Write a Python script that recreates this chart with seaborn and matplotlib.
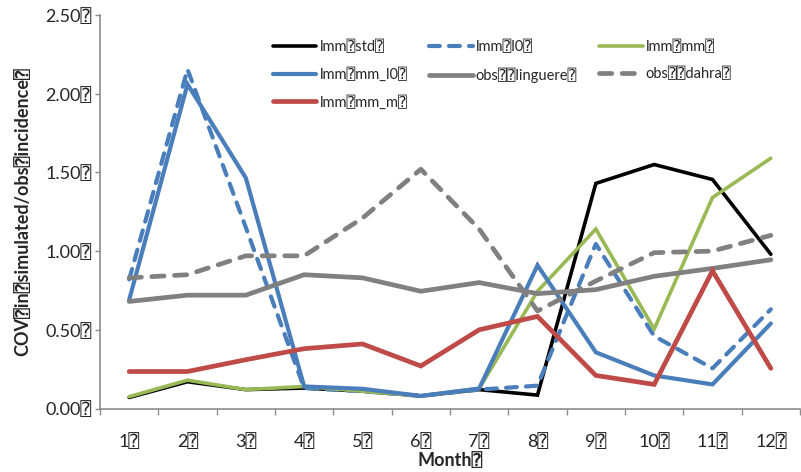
import matplotlib
matplotlib.use("Agg")
import matplotlib.pyplot as plt
import seaborn as sns
import numpy as np
import pandas as pd
from matplotlib.ticker import FixedLocator

B = "\u2370"

months = [f"{m}{B}" for m in range(1, 13)]
lmm_std = [0.07, 0.17, 0.12, 0.13, 0.11, 0.08, 0.12, 0.085, 1.43, 1.55, 1.455, 0.98]
lmm_l0 = [0.82, 2.155, 1.15, 0.13, 0.11, 0.08, 0.12, 0.145, 1.045, 0.46, 0.255, 0.63]
lmm_mm = [0.075, 0.18, 0.12, 0.14, 0.11, 0.08, 0.127, 0.745, 1.14, 0.505, 1.34, 1.59]
lmm_mm_l0 = [0.69, 2.06, 1.465, 0.14, 0.125, 0.08, 0.127, 0.91, 0.357, 0.21, 0.153, 0.54]
obs_linguere = [0.68, 0.72, 0.72, 0.85, 0.83, 0.745, 0.80, 0.73, 0.755, 0.84, 0.89, 0.945]
obs_dahra = [0.83, 0.85, 0.97, 0.97, 1.21, 1.52, 1.14, 0.62, 0.81, 0.99, 1.0, 1.10]
lmm_mm_m = [0.235, 0.235, 0.31, 0.38, 0.41, 0.27, 0.50, 0.585, 0.21, 0.153, 0.875, 0.255]

labels = [f"lmm{B}std{B}", f"lmm{B}l0{B}", f"lmm{B}mm{B}", f"lmm{B}mm_l0{B}",
          f"obs{B}{B}linguere{B}", f"obs{B}{B}dahra{B}", f"lmm{B}mm_m{B}"]
yticks = [0, 0.5, 1.0, 1.5, 2.0, 2.5]
yticklabels = [f"{v:.2f}{B}" for v in yticks]
xlabel = f"Month{B}"
ylabel = f"COV{B}in{B}simulated/obs{B}incidence{B}"

sns.set_theme(style="white")
plt.rcParams['font.family'] = ['Lato', 'DejaVu Sans Mono', 'DejaVu Sans']

fig = plt.figure(figsize=(8.01, 4.72), dpi=100)
ax = fig.add_axes([100/801, 1-408.5/472, 700/801, 393.5/472])

x = np.arange(12)
series = [lmm_std, lmm_l0, lmm_mm, lmm_mm_l0, obs_linguere, obs_dahra, lmm_mm_m]
colors = ["#000000", "#4a7ebb", "#98b954", "#4a7ebb", "#808080", "#808080", "#be4b48"]
widths = [2.6, 3.0, 2.6, 3.0, 3.4, 3.4, 3.4]
dashed = [False, True, False, False, False, True, False]

handles = []
for vals, c, w, d, lab in zip(series, colors, widths, dashed, labels):
    sns.lineplot(x=x, y=vals, ax=ax, color=c, linewidth=w, label=lab, legend=False)
    ln = ax.lines[-1]
    ln.set_solid_capstyle("round")
    ln.set_solid_joinstyle("miter")
    if d:
        ln.set_dashes((2.6, 2.2))
        ln.set_dash_capstyle("round")
    handles.append(ln)

ax.set_xlim(-0.5, 11.5)
ax.set_ylim(0, 2.5)
ax.set_xticks(x)
ax.set_xticklabels(months)
ax.xaxis.set_minor_locator(FixedLocator(np.arange(-0.5, 12, 1.0)))
ax.tick_params(axis="x", which="major", length=0, pad=18, labelsize=13)
ax.tick_params(axis="x", which="minor", length=4, width=1, color="#8c8c8c", direction="out", bottom=True)
ax.set_yticks(yticks)
ax.set_yticklabels(yticklabels)
ax.tick_params(axis="y", length=3.6, width=1, color="#8c8c8c", direction="out", left=True, labelsize=13, pad=2.5)

for s in ["top", "right"]:
    ax.spines[s].set_visible(False)
for s in ["left", "bottom"]:
    ax.spines[s].set_color("#8c8c8c")
    ax.spines[s].set_linewidth(1.2)

ax.set_xlabel(xlabel, fontsize=13, fontweight="bold", labelpad=1)
ax.set_ylabel(ylabel, fontsize=13, fontweight="bold", labelpad=10)

order = [0, 3, 6, 1, 4, 2, 5]
leg = ax.legend([handles[i] for i in order], [labels[i] for i in order],
                ncol=3, loc="upper left", bbox_to_anchor=(0.228, 0.97),
                frameon=False, fontsize=10.5, handlelength=3.0, handletextpad=0.2,
                columnspacing=1.5, labelspacing=0.9)

fig.savefig("out.png", dpi=100)
